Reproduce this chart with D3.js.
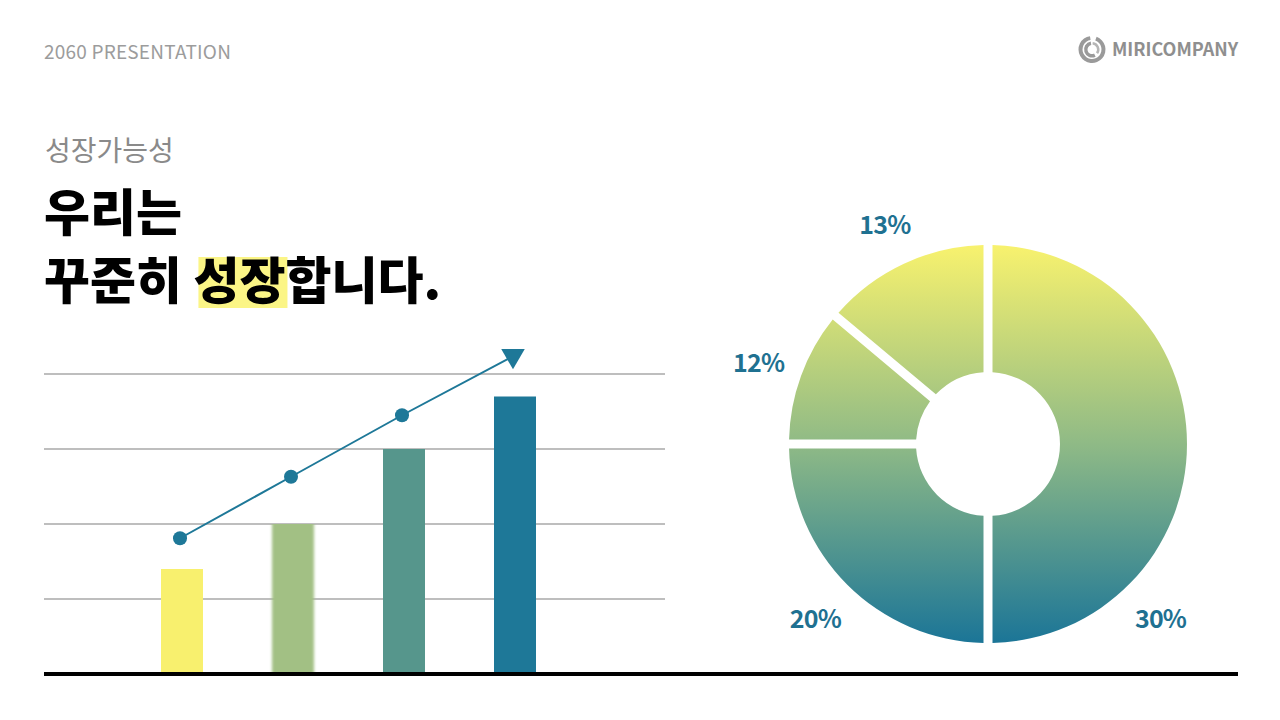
<!DOCTYPE html>
<html><head><meta charset="utf-8">
<script src="https://cdnjs.cloudflare.com/ajax/libs/d3/7.8.5/d3.min.js"></script>
<style>
html,body{margin:0;padding:0;background:#fff;}
svg{display:block;font-family:"Noto Sans CJK KR","Noto Sans",sans-serif;}
</style></head>
<body>
<svg id="c" width="1280" height="720"></svg>
<script>
// ---- data ----
const stages = ["1단계", "2단계", "3단계", "4단계"];
const barValues = [1.4, 2.0, 3.0, 3.7];
const trendValues = [1.81, 2.63, 3.45, 4.23];
const gridTicks = [1, 2, 3, 4];
const barColors = ["#f8f06e", "#a2c084", "#56968c", "#1e7898"];

const sliceLabels = ["30%", "20%", "12%", "13%"];
const sliceAngles = [180, 90, 40, 50]; // angular share (degrees)

// ---- setup ----
const svg = d3.select("#c");
const defs = svg.append("defs");

// header
svg.append("text").attr("x", 44).attr("y", 59).attr("font-size", 19).attr("font-weight", 400)
  .attr("fill", "#9c9c9c").attr("letter-spacing", 0.2).text("2060 PRESENTATION");

// logo
const logo = svg.append("g").attr("transform", "translate(1092,49.5)");
logo.append("path").attr("fill", "#9a9a9a")
  .attr("d", d3.arc().innerRadius(9.5).outerRadius(13.5).startAngle(0.35).endAngle(2 * Math.PI - 0.15)());
logo.append("path").attr("fill", "#9a9a9a")
  .attr("d", d3.arc().innerRadius(4.5).outerRadius(8).startAngle(Math.PI * 0.85).endAngle(Math.PI * 1.95)());
logo.append("path").attr("fill", "#b5b5b5")
  .attr("d", d3.arc().innerRadius(5).outerRadius(7.5).startAngle(0.1).endAngle(Math.PI * 0.7)());
svg.append("text").attr("x", 1112).attr("y", 56).attr("font-size", 18).attr("font-weight", 700)
  .attr("fill", "#8f8f8f").text("MIRICOMPANY");

// titles
svg.append("text").attr("x", 45).attr("y", 161).attr("font-size", 28).attr("font-weight", 400)
  .attr("fill", "#8a8a8a").text("성장가능성");
svg.append("text").attr("x", 44).attr("y", 231).attr("font-size", 50).attr("font-weight", 900)
  .attr("fill", "#000").text("우리는");
const hl = svg.append("rect").attr("fill", "#fbf586");
const t2 = svg.append("text").attr("x", 44).attr("y", 299).attr("font-size", 50).attr("font-weight", 900)
  .attr("fill", "#000").text("꾸준히 성장합니다.");
{
  const node = t2.node();
  const a = node.getExtentOfChar(4), b = node.getExtentOfChar(5);
  hl.attr("x", a.x + 5).attr("y", 257).attr("width", b.x + b.width - a.x - 3).attr("height", 51);
}

// ---- bar chart ----
const y = d3.scaleLinear().domain([0, 4]).range([674, 374]);
const x = d3.scalePoint().domain(stages).range([182, 515]);
const barW = 42;

svg.append("g").selectAll("line").data(gridTicks).join("line")
  .attr("x1", 44).attr("x2", 665).attr("y1", d => y(d)).attr("y2", d => y(d))
  .attr("stroke", "#a8a8a8").attr("stroke-width", 1.3);

const blur = defs.append("filter").attr("id", "hblur").attr("x", "-20%").attr("width", "140%");
blur.append("feGaussianBlur").attr("stdDeviation", "1.6 0");

svg.append("g").selectAll("rect").data(barValues).join("rect")
  .attr("x", (d, i) => x(stages[i]) - barW / 2)
  .attr("y", d => y(d))
  .attr("width", barW)
  .attr("height", d => y(0) - y(d))
  .attr("fill", (d, i) => barColors[i])
  .attr("filter", (d, i) => i === 1 ? "url(#hblur)" : null);

const lineColor = "#1e7898";
const pts = trendValues.map((v, i) => [x(stages[i]) - (i === 3 ? 3 : 2), y(v)]);
svg.append("path").attr("d", d3.line()(pts)).attr("fill", "none")
  .attr("stroke", lineColor).attr("stroke-width", 2);
svg.append("g").selectAll("circle").data(pts.slice(0, 3)).join("circle")
  .attr("cx", d => d[0]).attr("cy", d => d[1]).attr("r", 7).attr("fill", lineColor);
const last = pts[pts.length - 1];
svg.append("path")
  .attr("d", d3.symbol().type(d3.symbolTriangle).size(240)())
  .attr("transform", `translate(${last[0] + 1},${last[1] - 1}) rotate(180)`)
  .attr("fill", lineColor);

// baseline
svg.append("line").attr("x1", 44).attr("x2", 1238).attr("y1", y(0)).attr("y2", y(0))
  .attr("stroke", "#000").attr("stroke-width", 4);

// ---- donut ----
const cx = 988, cy = 444, R = 199, r0 = 72;
const grad = defs.append("linearGradient").attr("id", "dg")
  .attr("gradientUnits", "userSpaceOnUse").attr("x1", 0).attr("y1", -R).attr("x2", 0).attr("y2", R);
grad.append("stop").attr("offset", 0).attr("stop-color", "#f8f26e");
grad.append("stop").attr("offset", 0.5).attr("stop-color", "#8fba86");
grad.append("stop").attr("offset", 1).attr("stop-color", "#1b7597");

const pie = d3.pie().sort(null).value(d => d)(sliceAngles);
const arc = d3.arc().innerRadius(r0).outerRadius(R).padAngle(9 / R).padRadius(R);
const dg = svg.append("g").attr("transform", `translate(${cx},${cy})`);
dg.selectAll("path").data(pie).join("path").attr("d", arc).attr("fill", "url(#dg)");

const labR = 244;
dg.selectAll("text").data(pie).join("text")
  .attr("transform", d => {
    const a = d.endAngle - Math.min((d.endAngle - d.startAngle) / 2, Math.PI / 4);
    return `translate(${labR * Math.sin(a)},${-labR * Math.cos(a)})`;
  })
  .attr("text-anchor", "middle").attr("dominant-baseline", "central")
  .attr("font-size", 25).attr("font-weight", 700).attr("fill", "#1f7191")
  .attr("letter-spacing", -0.8)
  .text((d, i) => sliceLabels[i]);
</script>
</body></html>
